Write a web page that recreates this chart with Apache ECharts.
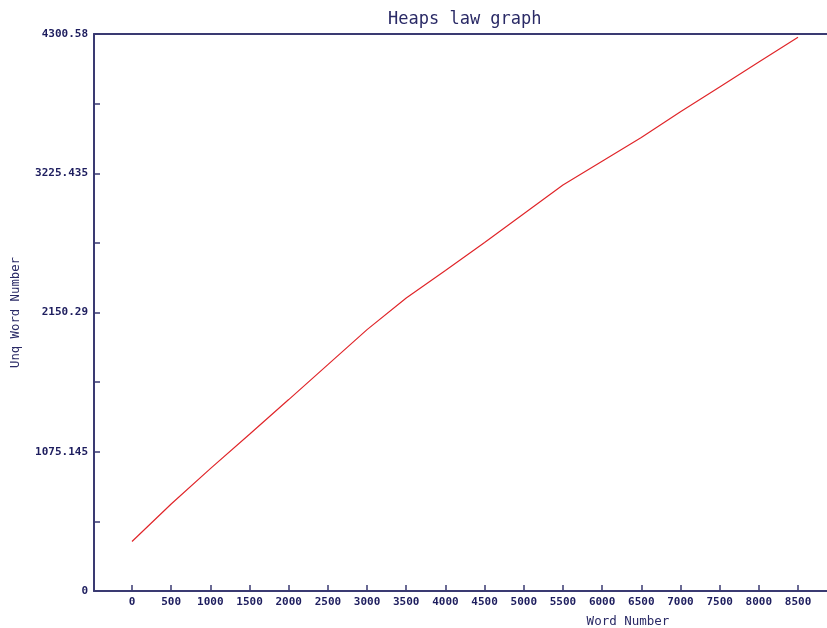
<!DOCTYPE html>
<html>
<head>
<meta charset="utf-8">
<script src="https://cdn.jsdelivr.net/npm/echarts@6/dist/echarts.min.js"></script>
<style>
  html, body { margin: 0; padding: 0; background: #ffffff; }
  #chart { width: 827px; height: 628px; }
</style>
</head>
<body>
<div id="chart"></div>
<script>
// Word position in the text and count of distinct words seen so far
const wordNumbers = [0, 500, 1000, 1500, 2000, 2500, 3000, 3500, 4000,
                     4500, 5000, 5500, 6000, 6500, 7000, 7500, 8000, 8500];
const uniqueWords = [382, 672, 945, 1210, 1478, 1748, 2018, 2262, 2475,
                     2690, 2912, 3135, 3318, 3501, 3701, 3892, 4084, 4275];

// Axis ticks
const xTicks = [0, 500, 1000, 1500, 2000, 2500, 3000, 3500, 4000,
                4500, 5000, 5500, 6000, 6500, 7000, 7500, 8000, 8500];
const yLabelTicks = [0, 1075.145, 2150.29, 3225.435, 4300.58];
const yAllTicks = [0, 537.5725, 1075.145, 1612.7175, 2150.29,
                   2687.8625, 3225.435, 3763.0075, 4300.58];
const yTickText = ['0', '1075.145', '2150.29', '3225.435', '4300.58'];

const navy = '#3a3a72';
const textNavy = '#1d1d5e';
const mono = '"DejaVu Sans Mono", "Liberation Mono", monospace';

const chart = echarts.init(document.getElementById('chart'), null, { renderer: 'canvas' });

chart.setOption({
  backgroundColor: '#ffffff',
  animation: false,
  title: {
    text: 'Heaps law graph',
    left: 383,
    top: 6,
    textStyle: { fontFamily: mono, fontSize: 17, fontWeight: 'normal', color: '#2a2a66' }
  },
  grid: { left: 94, right: 0, top: 34, bottom: 37, outerBoundsMode: 'none', containLabel: false },
  xAxis: [{
    type: 'value',
    min: -485,
    max: 8870,
    position: 'bottom',
    name: 'Word Number',
    nameLocation: 'middle',
    nameGap: 24,
    nameTextStyle: { fontFamily: mono, fontSize: 12.5, color: '#2a2a66', padding: [0, 0, 0, 335] },
    axisLine: { show: true, onZero: false, lineStyle: { color: navy, width: 2 } },
    axisTick: { show: true, inside: true, length: 6, customValues: xTicks, lineStyle: { color: navy, width: 1.5 } },
    axisLabel: {
      customValues: xTicks,
      margin: 6,
      fontFamily: mono, fontSize: 11, fontWeight: 'bold', color: textNavy,
      formatter: function (v) { return String(v); }
    },
    splitLine: { show: false }
  }, {
    type: 'value',
    min: -485,
    max: 8870,
    position: 'top',
    axisLine: { show: true, onZero: false, lineStyle: { color: navy, width: 2 } },
    axisTick: { show: false },
    axisLabel: { show: false },
    splitLine: { show: false }
  }],
  yAxis: {
    type: 'value',
    min: 0,
    max: 4300.58,
    name: 'Unq Word Number',
    nameLocation: 'middle',
    nameGap: 72,
    nameRotate: 90,
    nameTextStyle: { fontFamily: mono, fontSize: 12.3, color: '#2a2a66' },
    axisLine: { show: true, onZero: false, lineStyle: { color: navy, width: 2 } },
    axisTick: { show: true, inside: true, length: 6, customValues: yAllTicks, lineStyle: { color: navy, width: 1.5 } },
    axisLabel: {
      customValues: yLabelTicks,
      margin: 6,
      fontFamily: mono, fontSize: 11, fontWeight: 'bold', color: textNavy,
      formatter: function (v) {
        const i = yLabelTicks.findIndex(t => Math.abs(t - v) < 1e-6);
        return i >= 0 ? yTickText[i] : '';
      }
    },
    splitLine: { show: false }
  },
  series: [{
    type: 'line',
    data: wordNumbers.map((w, i) => [w, uniqueWords[i]]),
    showSymbol: false,
    smooth: false,
    lineStyle: { color: '#e0262a', width: 1.2 },
    itemStyle: { color: '#e0262a' }
  }]
});
</script>
</body>
</html>
